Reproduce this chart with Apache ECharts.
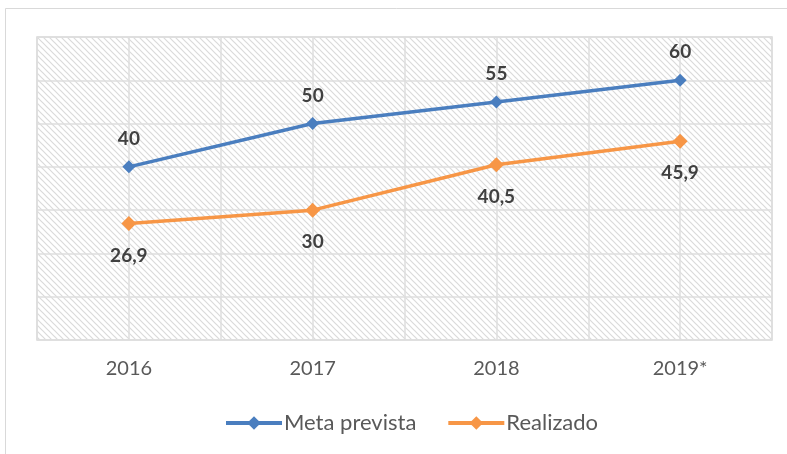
<!DOCTYPE html>
<html>
<head>
<meta charset="utf-8">
<script src="https://cdn.jsdelivr.net/npm/echarts@6/dist/echarts.min.js"></script>
<style>
  html, body { margin: 0; padding: 0; background: #ffffff; }
  #chart { width: 787px; height: 454px; }
</style>
</head>
<body>
<div id="chart"></div>
<script>
// Years on the horizontal axis
const years = ['2016', '2017', '2018', '2019*'];
// Planned target per year
const metaPrevista = [40, 50, 55, 60];
// Achieved value per year
const realizado = [26.9, 30, 40.5, 45.9];
// Value axis range
const yMin = 0;
const yMax = 70;
const yStep = 10;

// Small tile with a diagonal stroke, repeated as the plot background
function hatchTile() {
  const s = 6;
  const c = document.createElement('canvas');
  c.width = s; c.height = s;
  const g = c.getContext('2d');
  g.fillStyle = '#ffffff';
  g.fillRect(0, 0, s, s);
  g.strokeStyle = '#dadada';
  g.lineWidth = 1.2;
  g.beginPath();
  g.moveTo(-1, -1); g.lineTo(s + 1, s + 1);
  g.moveTo(-1, s - 1); g.lineTo(1, s + 1);
  g.moveTo(s - 1, -1); g.lineTo(s + 1, 1);
  g.stroke();
  return c;
}

const fmt = v => String(v).replace('.', ',');
const font = 'Lato, "Open Sans", sans-serif';
const blue = '#4a7ebf';
const orange = '#f79646';

const chart = echarts.init(document.getElementById('chart'));
chart.setOption({
  backgroundColor: '#ffffff',
  animation: false,
  textStyle: { fontFamily: font },
  graphic: [{
    type: 'rect',
    shape: { x: 5.5, y: 8.5, width: 800, height: 460 },
    style: { fill: 'none', stroke: '#d9d9d9', lineWidth: 1 },
    silent: true,
    z: -10
  }],
  grid: {
    left: 37, right: 15, top: 37, bottom: 114,
    show: true,
    backgroundColor: { image: hatchTile(), repeat: 'repeat' },
    borderColor: '#d9d9d9',
    borderWidth: 1.5
  },
  legend: {
    bottom: 15,
    left: 219,
    itemWidth: 56,
    itemHeight: 17,
    itemGap: 30,
    textStyle: { fontSize: 22, color: '#595959', fontFamily: font, padding: [0, 0, 0, -3] },
    data: [
      { name: 'Meta prevista', lineStyle: { width: 4, color: blue }, itemStyle: { color: blue } },
      { name: 'Realizado', lineStyle: { width: 4, color: orange }, itemStyle: { color: orange } }
    ]
  },
  xAxis: [{
    type: 'category',
    data: years,
    boundaryGap: true,
    axisLine: { show: false },
    axisTick: { show: false },
    axisLabel: { fontSize: 20, color: '#595959', margin: 19, fontFamily: font },
    splitLine: { show: false }
  }, {
    // helper axis for the vertical grid lines (boundaries and category centres)
    type: 'value',
    min: 0, max: 8, interval: 1,
    position: 'bottom',
    axisLine: { show: false },
    axisTick: { show: false },
    axisLabel: { show: false },
    splitLine: { show: true, lineStyle: { color: '#dedede', width: 1.5 } }
  }],
  yAxis: {
    type: 'value',
    min: yMin, max: yMax, interval: yStep,
    axisLine: { show: false },
    axisTick: { show: false },
    axisLabel: { show: false },
    splitLine: { show: true, lineStyle: { color: '#dedede', width: 1.5 } }
  },
  series: [{
    name: 'Meta prevista',
    type: 'line',
    data: metaPrevista,
    color: blue,
    symbol: 'diamond',
    symbolSize: 13,
    lineStyle: { width: 3.5, color: blue },
    itemStyle: { color: blue },
    label: {
      show: true, position: 'top', distance: 12,
      fontSize: 19, fontWeight: 'bold', color: '#404040', fontFamily: font,
      formatter: p => fmt(p.value)
    },
    z: 3
  }, {
    name: 'Realizado',
    type: 'line',
    data: realizado,
    color: orange,
    symbol: 'diamond',
    symbolSize: 15,
    lineStyle: { width: 3.5, color: orange },
    itemStyle: { color: orange },
    label: {
      show: true, position: 'bottom', distance: 15,
      fontSize: 19, fontWeight: 'bold', color: '#404040', fontFamily: font,
      formatter: p => fmt(p.value)
    },
    z: 3
  }]
});
</script>
</body>
</html>
